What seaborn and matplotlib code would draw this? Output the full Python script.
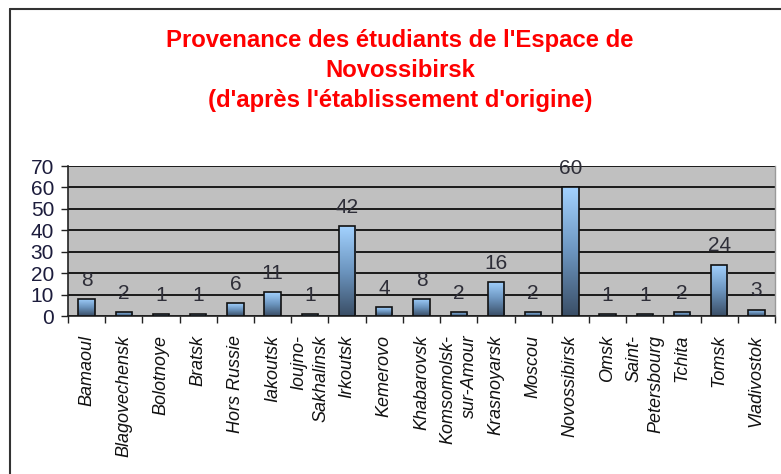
import numpy as np
import pandas as pd
import matplotlib
matplotlib.use("Agg")
import matplotlib.pyplot as plt
import seaborn as sns
from matplotlib.colors import LinearSegmentedColormap
from matplotlib.lines import Line2D

# Origin of the students (by home institution)
villes = [
    "Bamaoul", "Blagovechensk", "Bolotnoye", "Bratsk", "Hors Russie",
    "Iakoutsk", "Ioujno-\nSakhalinsk", "Irkoutsk", "Kemerovo", "Khabarovsk",
    "Komsomolsk-\nsur-Amour", "Krasnoyarsk", "Moscou", "Novossibirsk", "Omsk",
    "Saint-\nPetersbourg", "Tchita", "Tomsk", "Vladivostok",
]
etudiants = [8, 2, 1, 1, 6, 11, 1, 42, 4, 8, 2, 16, 2, 60, 1, 1, 2, 24, 3]
graduations = [0, 10, 20, 30, 40, 50, 60, 70]

titre = [
    "Provenance des étudiants de l'Espace de",
    "Novossibirsk",
    "(d'après l'établissement d'origine)",
]

df = pd.DataFrame({"ville": villes, "n": etudiants})

sns.set_theme(style="white")
plt.rcParams["font.family"] = ["Liberation Sans", "DejaVu Sans"]

W, H = 781, 474
fig = plt.figure(figsize=(W / 100, H / 100), dpi=100)
ax = fig.add_axes([68 / W, 1 - 316 / H, (775 - 68) / W, 150 / H])
ax.set_facecolor("#c0c0c0")

sns.barplot(data=df, x="ville", y="n", ax=ax, width=0.44,
            edgecolor="#111111", linewidth=1.2, color="#6f9cc8",
            zorder=3)

# vertical gradient fill inside each bar, light at the top, dark at the base
grad_cmap = LinearSegmentedColormap.from_list("barre", ["#3a4e66", "#6c95bf", "#a3d2ff"])
grad = np.linspace(0, 1, 256).reshape(-1, 1)
for p in ax.patches:
    x0, y0 = p.get_x(), p.get_y()
    w, h = p.get_width(), p.get_height()
    im = ax.imshow(grad, cmap=grad_cmap, origin="lower", aspect="auto",
                   extent=[x0, x0 + w, y0, y0 + h], zorder=2.9,
                   interpolation="bilinear")
    im.set_clip_path(p)
    p.set_facecolor("none")

# value labels above the bars
for i, v in enumerate(etudiants):
    ax.annotate(str(v), (i, v), xytext=(0, 9.5), textcoords="offset points",
                ha="center", va="baseline", fontsize=15, color="#2e2e38",
                zorder=5)

ax.set_xlim(-0.5, len(villes) - 0.5)
ax.set_ylim(0, 70)
ax.set_yticks(graduations)
ax.yaxis.grid(True, color="#1a1a1a", linewidth=1.4, zorder=1)
ax.set_axisbelow(True)

ax.tick_params(axis="y", which="major", left=True, length=5, width=1,
               color="#222222", labelsize=15, labelcolor="#1c1c3c", pad=5)
ax.set_xticks(range(len(villes)))
ax.set_xticklabels(villes, rotation=90, style="italic", fontsize=13,
                   color="#111111", ha="center", va="top",
                   multialignment="right", linespacing=1.4)
ax.tick_params(axis="x", which="major", length=0, pad=13.5)
ax.set_xticks(np.arange(-0.5, len(villes) + 0.5, 1), minor=True)
ax.tick_params(axis="x", which="minor", bottom=True, length=5, width=1,
               color="#222222")

ax.set_xlabel("")
ax.set_ylabel("")
for side in ("left", "bottom"):
    ax.spines[side].set_color("#222222")
    ax.spines[side].set_linewidth(1.2)
ax.spines["top"].set_visible(False)
ax.spines["right"].set_color("#9a9a9a")
ax.spines["right"].set_linewidth(1)

# three-line red title
for ligne, base in zip(titre, [47, 77, 107]):
    fig.text(400 / W, 1 - base / H, ligne, ha="center", va="baseline",
             fontsize=17.2, fontweight="bold", color="#ff0000")

# frame around the chart
fig.add_artist(Line2D([10 / W, 1.0], [1 - 9 / H, 1 - 9 / H],
                      transform=fig.transFigure, color="#333333", linewidth=1.5))
fig.add_artist(Line2D([10 / W, 10 / W], [0.0, 1 - 9 / H],
                      transform=fig.transFigure, color="#333333", linewidth=1.5))

fig.savefig("out.png", dpi=100)
